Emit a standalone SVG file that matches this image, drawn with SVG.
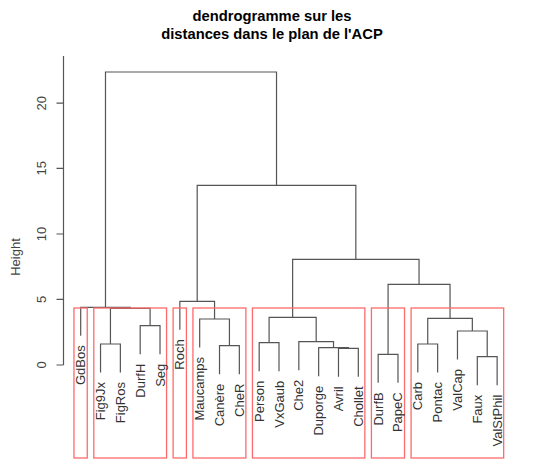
<svg xmlns="http://www.w3.org/2000/svg" width="551" height="462" viewBox="0 0 551 462">
<style>
.t{font-family:"Liberation Sans",Arial,sans-serif;font-weight:bold;font-size:14.75px;fill:#000;text-anchor:middle}
.ax{font-family:"Liberation Sans",Arial,sans-serif;font-size:13px;fill:#444;text-anchor:middle}
.lb{font-family:"Liberation Sans",Arial,sans-serif;font-size:13px;fill:#333;text-anchor:end}
.e{fill:none;stroke:#555;stroke-width:1.2}
.box{fill:none;stroke:#ff6a6a;stroke-width:1.3}
.axl{fill:none;stroke:#555;stroke-width:1.2}
</style>
<rect width="551" height="462" fill="#fff"/>
<g id="title">
<text class="t" x="272" y="21">dendrogramme sur les</text>
<text class="t" x="272" y="39">distances dans le plan de l'ACP</text>
</g>
<g id="axis">
<path class="axl" d="M63.5 56V365M56.5 365H63.5M56.5 299.3H63.5M56.5 234H63.5M56.5 168.3H63.5M56.5 103.2H63.5"/>
<text class="ax" transform="translate(46,365) rotate(-90)">0</text>
<text class="ax" transform="translate(46,299.3) rotate(-90)">5</text>
<text class="ax" transform="translate(46,234) rotate(-90)">10</text>
<text class="ax" transform="translate(46,168.3) rotate(-90)">15</text>
<text class="ax" transform="translate(46,103.2) rotate(-90)">20</text>
<text class="ax" transform="translate(19.5,257) rotate(-90)">Height</text>
</g>
<g id="connectors">
<path class="e" d="M100.53 372.5V344H120.36V372.5"/>
<path class="e" d="M140.19 354.2V325.7H160.02V354.2"/>
<path class="e" d="M110.45 344V308.3H150.1V325.7"/>
<path class="e" d="M80.7 335.8V307.3H130.28V308.3"/>
<path class="e" d="M219.51 374.2V345.7H239.34V374.2"/>
<path class="e" d="M199.68 347.5V319H229.43V345.7"/>
<path class="e" d="M179.85 329.8V301.3H214.55V319"/>
<path class="e" d="M259.17 371.2V342.7H279V371.2"/>
<path class="e" d="M338.49 376.8V348.3H358.32V376.8"/>
<path class="e" d="M318.66 376.2V347.7H348.4V348.3"/>
<path class="e" d="M298.83 370.2V341.7H333.53V347.7"/>
<path class="e" d="M269.09 342.7V317.3H316.18V341.7"/>
<path class="e" d="M378.15 382.8V354.3H397.98V382.8"/>
<path class="e" d="M417.81 372.5V344H437.64V372.5"/>
<path class="e" d="M477.3 385.2V356.7H497.13V385.2"/>
<path class="e" d="M457.47 359.5V331H487.22V356.7"/>
<path class="e" d="M427.73 344V318.3H472.34V331"/>
<path class="e" d="M388.07 354.3V284.3H450.04V318.3"/>
<path class="e" d="M292.63 317.3V259.3H419.05V284.3"/>
<path class="e" d="M197.2 301.3V185.3H355.84V259.3"/>
<path class="e" d="M105.49 307.3V72H276.52V185.3"/>
</g>
<g id="clusters">
<rect class="box" x="73.96" y="308" width="13.28" height="150"/>
<rect class="box" x="93.79" y="308" width="72.77" height="150"/>
<rect class="box" x="173.11" y="308" width="13.28" height="150"/>
<rect class="box" x="192.94" y="308" width="52.94" height="150"/>
<rect class="box" x="252.43" y="308" width="112.43" height="150"/>
<rect class="box" x="371.41" y="308" width="33.11" height="150"/>
<rect class="box" x="411.07" y="308" width="92.6" height="150"/>
</g>
<g id="leaf-GdBos"><text class="lb" transform="translate(85.2,345.3) rotate(-90)">GdBos</text></g>
<g id="leaf-Fig9Jx"><text class="lb" transform="translate(105.03,382) rotate(-90)">Fig9Jx</text></g>
<g id="leaf-FigRos"><text class="lb" transform="translate(124.86,382) rotate(-90)">FigRos</text></g>
<g id="leaf-DurfH"><text class="lb" transform="translate(144.69,363.7) rotate(-90)">DurfH</text></g>
<g id="leaf-Seg"><text class="lb" transform="translate(164.52,363.7) rotate(-90)">Seg</text></g>
<g id="leaf-Roch"><text class="lb" transform="translate(184.35,339.3) rotate(-90)">Roch</text></g>
<g id="leaf-Maucamps"><text class="lb" transform="translate(204.18,357) rotate(-90)">Maucamps</text></g>
<g id="leaf-Canere"><text class="lb" transform="translate(224.01,383.7) rotate(-90)">Canère</text></g>
<g id="leaf-CheR"><text class="lb" transform="translate(243.84,383.7) rotate(-90)">CheR</text></g>
<g id="leaf-Person"><text class="lb" transform="translate(263.67,380.7) rotate(-90)">Person</text></g>
<g id="leaf-VxGaub"><text class="lb" transform="translate(283.5,380.7) rotate(-90)">VxGaub</text></g>
<g id="leaf-Che2"><text class="lb" transform="translate(303.33,379.7) rotate(-90)">Che2</text></g>
<g id="leaf-Duporge"><text class="lb" transform="translate(323.16,385.7) rotate(-90)">Duporge</text></g>
<g id="leaf-Avril"><text class="lb" transform="translate(342.99,386.3) rotate(-90)">Avril</text></g>
<g id="leaf-Chollet"><text class="lb" transform="translate(362.82,386.3) rotate(-90)">Chollet</text></g>
<g id="leaf-DurfB"><text class="lb" transform="translate(382.65,392.3) rotate(-90)">DurfB</text></g>
<g id="leaf-PapeC"><text class="lb" transform="translate(402.48,392.3) rotate(-90)">PapeC</text></g>
<g id="leaf-Carb"><text class="lb" transform="translate(422.31,382) rotate(-90)">Carb</text></g>
<g id="leaf-Pontac"><text class="lb" transform="translate(442.14,382) rotate(-90)">Pontac</text></g>
<g id="leaf-ValCap"><text class="lb" transform="translate(461.97,369) rotate(-90)">ValCap</text></g>
<g id="leaf-Faux"><text class="lb" transform="translate(481.8,394.7) rotate(-90)">Faux</text></g>
<g id="leaf-ValStPhil"><text class="lb" transform="translate(501.63,394.7) rotate(-90)">ValStPhil</text></g>
</svg>
